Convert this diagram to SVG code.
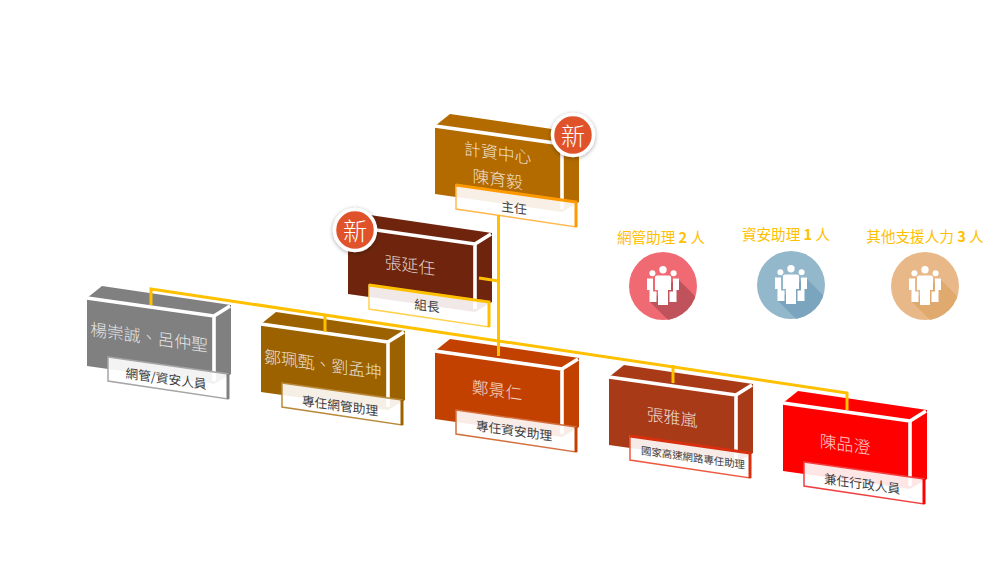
<svg xmlns="http://www.w3.org/2000/svg" width="1002" height="575" viewBox="0 0 1002 575">
<style>
text{font-family:"Noto Sans CJK TC","Noto Sans CJK SC","Liberation Sans",sans-serif;text-anchor:middle;dominant-baseline:central}
.name{font-size:16.8px;font-weight:300;fill:#fff;fill-opacity:.8}
.role{font-size:12.7px;fill:#404040}
.small{font-size:10.4px}
.line{stroke:#fff;stroke-width:3.6;fill:none}
.lab{fill:#fff;fill-opacity:.9;stroke-width:1.5}
.heavy{fill:none;stroke-width:3}
.conn{stroke:#ffc000;stroke-width:3;fill:none}
.head{font-size:14.6px;fill:#ffc000}
.digit{font-weight:700}
.new{font-size:24px;font-weight:300;fill:#fff}
.badge{fill:#e0522a;stroke:#fff;stroke-width:3.5;filter:url(#sh)}
.person{fill:#fff}
</style>
<defs>
<filter id="sh" x="-30%" y="-30%" width="160%" height="160%"><feDropShadow dx="0" dy="1" stdDeviation="2" flood-color="#000" flood-opacity=".35"/></filter>
<g id="box">
<polygon points="0,0 15,-12 144,7 144,76 127,86 0,68"/>
<path class="line" d="M0,0 L127,18 L127,83 M127,18 L143,8"/>
</g>
<clipPath id="disc"><circle r="34"/></clipPath>
<g id="people">
<circle class="person" cx="0" cy="-16.3" r="3.7"/>
<circle class="person" cx="-10.6" cy="-12.7" r="3"/>
<circle class="person" cx="10.6" cy="-12.7" r="3"/>
<path class="person" d="M-8,-9Q-8,-10.5-6,-10.5L6,-10.5Q8,-10.5 8,-9L8,4L5,4L5,19L-5,19L-5,4L-8,4Z"/>
<path class="person" d="M-16,-7.5L-10,-7.5L-10,5.5L-6.5,5.5L-6.5,16L-13.5,16L-13.5,4L-16,4Z"/>
<path class="person" d="M16,-7.5L10,-7.5L10,5.5L6.5,5.5L6.5,16L13.5,16L13.5,4L16,4Z"/>
</g>
</defs>
<rect width="1002" height="575" fill="#fff"/>

<g id="node-top" transform="translate(435,126)">
<use href="#box" fill="#b36b00"/>
<polygon class="lab" stroke="#ffb84d" points="21,59 141,76 141,101 21,83"/>
<path class="heavy" stroke="#ff9900" d="M21,59L141,76L141,101"/>
<text class="name" transform="matrix(1 .14 0 1 62.7 25.7)">計資中心</text>
<text class="name" transform="matrix(1 .14 0 1 62.7 52)">陳育毅</text>
<text class="role" transform="matrix(1 .14 0 1 79 81)">主任</text>
</g>
<g id="badge-top"><circle class="badge" cx="573" cy="135" r="20.5"/><text class="new" x="573" y="134">新</text></g>

<g id="node-deputy" transform="translate(348,226)">
<use href="#box" fill="#6f250d"/>
<polygon class="lab" stroke="#ffd24d" points="21,59 141,76 141,101 21,83"/>
<path class="heavy" stroke="#ffc000" d="M21,59L141,76L141,101"/>
<text class="name" transform="matrix(1 .14 0 1 62 38)">張延任</text>
<text class="role" transform="matrix(1 .14 0 1 79 79)">組長</text>
</g>
<g id="badge-deputy"><circle class="badge" cx="355" cy="230" r="20.5"/><text class="new" x="355" y="229">新</text></g>

<g id="node-1" transform="translate(87,298)">
<use href="#box" fill="#808080"/>
<polygon class="lab" stroke="#a6a6a6" points="21,59 141,76 141,101 21,83"/>
<path class="heavy" stroke="#808080" d="M141,76L141,101"/>
<text class="name" transform="matrix(1 .14 0 1 62 38)">楊崇誠、呂仲聖</text>
<text class="role" transform="matrix(1 .14 0 1 79 80)">網管/資安人員</text>
</g>
<g id="node-2" transform="translate(261,324)">
<use href="#box" fill="#9c6200"/>
<polygon class="lab" stroke="#b98a3c" points="21,59 141,76 141,101 21,83"/>
<path class="heavy" stroke="#9c6200" d="M141,76L141,101"/>
<text class="name" transform="matrix(1 .14 0 1 62 39)">鄒珮甄、劉孟坤</text>
<text class="role" transform="matrix(1 .14 0 1 79 81)">專任網管助理</text>
</g>
<g id="node-3" transform="translate(435,351)">
<use href="#box" fill="#c24100"/>
<polygon class="lab" stroke="#d4703e" points="21,59 141,76 141,101 21,83"/>
<path class="heavy" stroke="#c24100" d="M141,76L141,101"/>
<text class="name" transform="matrix(1 .14 0 1 62 38)">鄭景仁</text>
<text class="role" transform="matrix(1 .14 0 1 79 79)">專任資安助理</text>
</g>
<g id="node-4" transform="translate(609,377)">
<use href="#box" fill="#a93a17"/>
<polygon class="lab" stroke="#ee5a40" points="21,59 141,76 141,101 21,83"/>
<path class="heavy" stroke="#d8300f" d="M21,59L141,76L141,101"/>
<text class="name" transform="matrix(1 .14 0 1 63 39)">張雅嵐</text>
<text class="role small" transform="matrix(1 .14 0 1 84 80)">國家高速網路專任助理</text>
</g>
<g id="node-5" transform="translate(783,403)">
<use href="#box" fill="#fe0000"/>
<polygon class="lab" stroke="#f04040" points="21,59 141,76 141,101 21,83"/>
<path class="heavy" stroke="#fe0000" d="M141,76L141,101"/>
<text class="name" transform="matrix(1 .14 0 1 62 40)">陳品澄</text>
<text class="role" transform="matrix(1 .14 0 1 79 80)">兼任行政人員</text>
</g>

<g id="connectors" class="conn">
<path d="M498.5,215L498.5,356"/>
<path d="M479,278L498.5,281"/>
<path d="M151,305L151,289L847,393L847,410"/>
<path d="M325,315L325,332"/>
<path d="M673,365L673,383"/>
</g>

<g id="stat-net">
<text class="head" x="661" y="236">網管助理 <tspan class="digit">2</tspan> 人</text>
<g transform="translate(663,286)"><circle r="34" fill="#f06a74"/><polygon clip-path="url(#disc)" points="-13,16 14,-8 50,28 23,52" fill="#bf525a"/><use href="#people"/></g>
</g>
<g id="stat-sec">
<text class="head" x="786" y="233">資安助理 <tspan class="digit">1</tspan> 人</text>
<g transform="translate(791,285)"><circle r="34" fill="#93b7cb"/><polygon clip-path="url(#disc)" points="-13,16 14,-8 50,28 23,52" fill="#7ba5bf"/><use href="#people"/></g>
</g>
<g id="stat-other">
<text class="head" x="925" y="235">其他支援人力 <tspan class="digit">3</tspan> 人</text>
<g transform="translate(925,286)"><circle r="34" fill="#e8b888"/><polygon clip-path="url(#disc)" points="-13,16 14,-8 50,28 23,52" fill="#e0a96e"/><use href="#people"/></g>
</g>
</svg>
